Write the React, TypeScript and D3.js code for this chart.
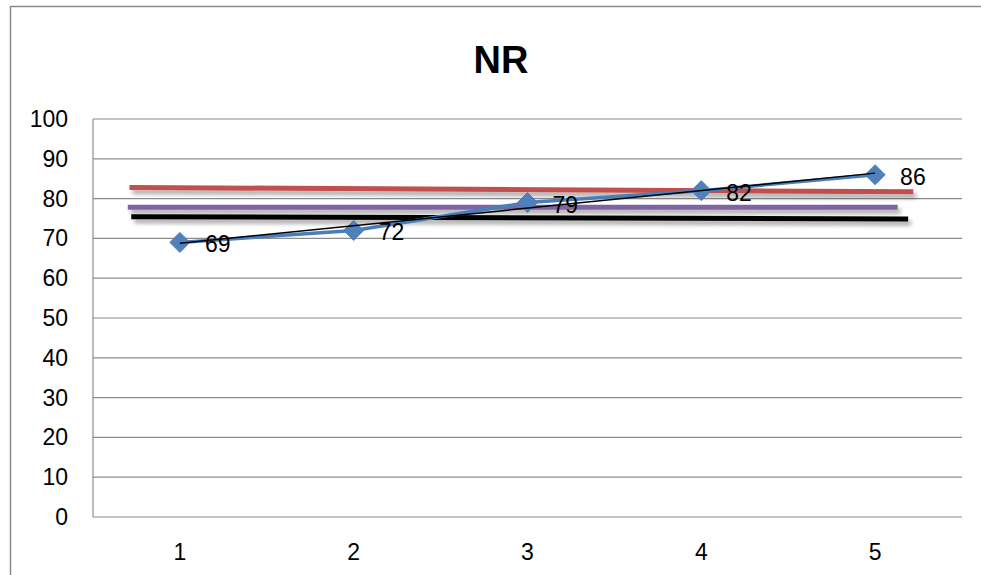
import React from "react";
import * as d3 from "d3";

const title = "NR";
const categories = [1, 2, 3, 4, 5];
const values = [69, 72, 79, 82, 86];
const yTicks = [0, 10, 20, 30, 40, 50, 60, 70, 80, 90, 100];

// horizontal reference lines: [start value, end value], spanning category units
const refColors = ["#C0504D", "#8064A2", "#000000"];
const refStartValues = [82.8, 77.8, 75.45];
const refEndValues = [81.7, 77.8, 74.9];
const refStartCat = [0.71, 0.7, 0.72];
const refEndCat = [5.22, 5.13, 5.19];

const W = 981;
const H = 575;
const plot = { left: 93, right: 962, top: 119, bottom: 517 };

export default function App() {
  const x = d3
    .scaleLinear()
    .domain([0.5, 5.5])
    .range([plot.left, plot.right]);
  const y = d3.scaleLinear().domain([0, 100]).range([plot.bottom, plot.top]);

  const line = d3
    .line<number>()
    .x((_, i) => x(categories[i]))
    .y((d) => y(d));

  // linear trendline
  const n = values.length;
  const mx = d3.mean(categories)!;
  const my = d3.mean(values)!;
  const slope =
    d3.sum(categories.map((c, i) => (c - mx) * (values[i] - my))) /
    d3.sum(categories.map((c) => (c - mx) * (c - mx)));
  const icpt = my - slope * mx;
  const c0 = categories[0];
  const c1 = categories[n - 1];

  const font = "'Liberation Sans', Arial, sans-serif";

  return (
    <svg
      width={W}
      height={H}
      style={{ position: "absolute", left: 0, top: 0, background: "#fff" }}
      fontFamily={font}
    >
      <defs>
        <filter
          id="sh"
          filterUnits="userSpaceOnUse"
          x={0}
          y={0}
          width={W}
          height={H}
        >
          <feGaussianBlur in="SourceAlpha" stdDeviation="2" />
          <feOffset dx="3" dy="4" result="b" />
          <feComponentTransfer>
            <feFuncA type="linear" slope="0.35" />
          </feComponentTransfer>
          <feMerge>
            <feMergeNode />
            <feMergeNode in="SourceGraphic" />
          </feMerge>
        </filter>
      </defs>
      {/* outer chart border */}
      <path d={`M10.5,${H} V6.5 H${W}`} fill="none" stroke="#8c8c8c" strokeWidth={1.5} />

      <text
        x={501}
        y={73}
        textAnchor="middle"
        fontWeight="bold"
        fontSize={38}
        fill="#000"
      >
        {title}
      </text>

      {/* gridlines */}
      {yTicks.map((t) => (
        <line
          key={t}
          x1={plot.left}
          x2={plot.right}
          y1={y(t)}
          y2={y(t)}
          stroke="#8c8c8c"
          strokeWidth={1.2}
        />
      ))}
      <line
        x1={plot.left}
        x2={plot.left}
        y1={plot.top}
        y2={plot.bottom}
        stroke="#8c8c8c"
        strokeWidth={1.2}
      />

      {/* y tick labels */}
      {yTicks.map((t) => (
        <text
          key={t}
          x={68}
          y={y(t) + 8}
          textAnchor="end"
          fontSize={23}
          fill="#000"
        >
          {t}
        </text>
      ))}
      {/* x tick labels */}
      {categories.map((c) => (
        <text key={c} x={x(c)} y={560} textAnchor="middle" fontSize={23} fill="#000">
          {c}
        </text>
      ))}

      {/* reference lines */}
      {refColors.map((col, i) => (
        <line
          key={i}
          x1={x(refStartCat[i])}
          x2={x(refEndCat[i])}
          y1={y(refStartValues[i])}
          y2={y(refEndValues[i])}
          stroke={col}
          strokeWidth={5}
          filter="url(#sh)"
        />
      ))}

      {/* data series */}
      <path d={line(values) || ""} fill="none" stroke="#4A7EBB" strokeWidth={3.5} />
      {values.map((v, i) => {
        const cx = x(categories[i]);
        const cy = y(v);
        const r = 10;
        return (
          <path
            key={i}
            d={`M${cx},${cy - r} L${cx + r},${cy} L${cx},${cy + r} L${cx - r},${cy} Z`}
            fill="#4F81BD"
            stroke="#4A7EBB"
            strokeWidth={1}
          />
        );
      })}
      {/* trendline */}
      <line
        x1={x(c0)}
        x2={x(c1)}
        y1={y(icpt + slope * c0)}
        y2={y(icpt + slope * c1)}
        stroke="#000"
        strokeWidth={1.5}
      />
      {/* data labels */}
      {values.map((v, i) => (
        <text
          key={i}
          x={x(categories[i]) + 25}
          y={y(v) + 10}
          fontSize={23}
          fill="#000"
        >
          {v}
        </text>
      ))}
    </svg>
  );
}
